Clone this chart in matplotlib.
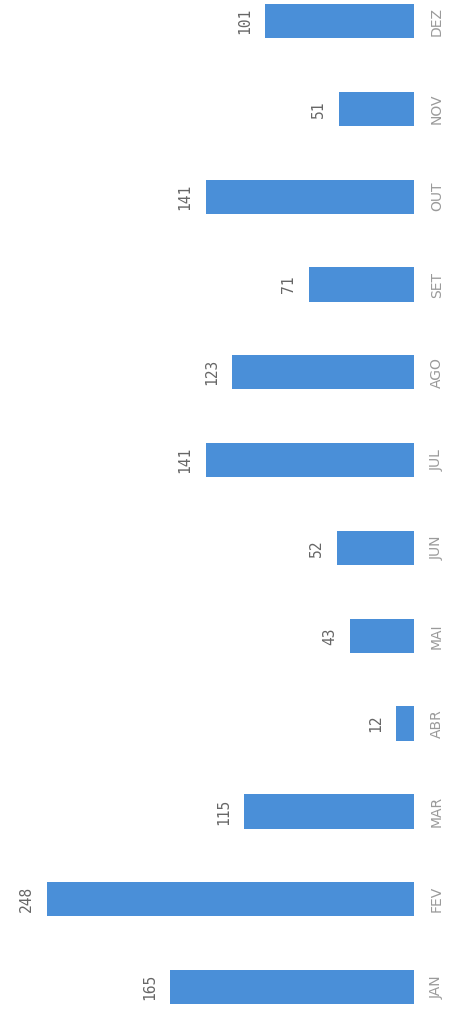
import numpy as np
import matplotlib
matplotlib.use("Agg")
import matplotlib.pyplot as plt

# monthly values, JAN .. DEZ
months = ["JAN", "FEV", "MAR", "ABR", "MAI", "JUN",
          "JUL", "AGO", "SET", "OUT", "NOV", "DEZ"]
values = [165, 248, 115, 12, 43, 52, 141, 123, 71, 141, 51, 101]

fig = plt.figure(figsize=(4.55, 10.16), dpi=100)
ax = fig.add_axes([0, 0, 1, 1])

pos = np.arange(len(months))
ax.barh(pos, values, height=0.39, color="#4a8fd8")

# bars grow to the left from the baseline
ax.set_xlim(280, -27.7)
ax.set_ylim(-0.33, 11.24)
ax.axis("off")

for i, v in enumerate(values):
    ax.annotate(str(v), (v, i), xytext=(-13, 0), textcoords="offset pixels",
                rotation=90, ha="right", va="center",
                fontsize=10.5, color="#666666", family="DejaVu Sans Mono")
    ax.annotate(months[i], (0, i), xytext=(16, 0), textcoords="offset pixels",
                rotation=90, ha="left", va="center",
                fontsize=10, color="#9a9a9a", family="DejaVu Sans")

fig.savefig("out.png", dpi=100, facecolor="white")
